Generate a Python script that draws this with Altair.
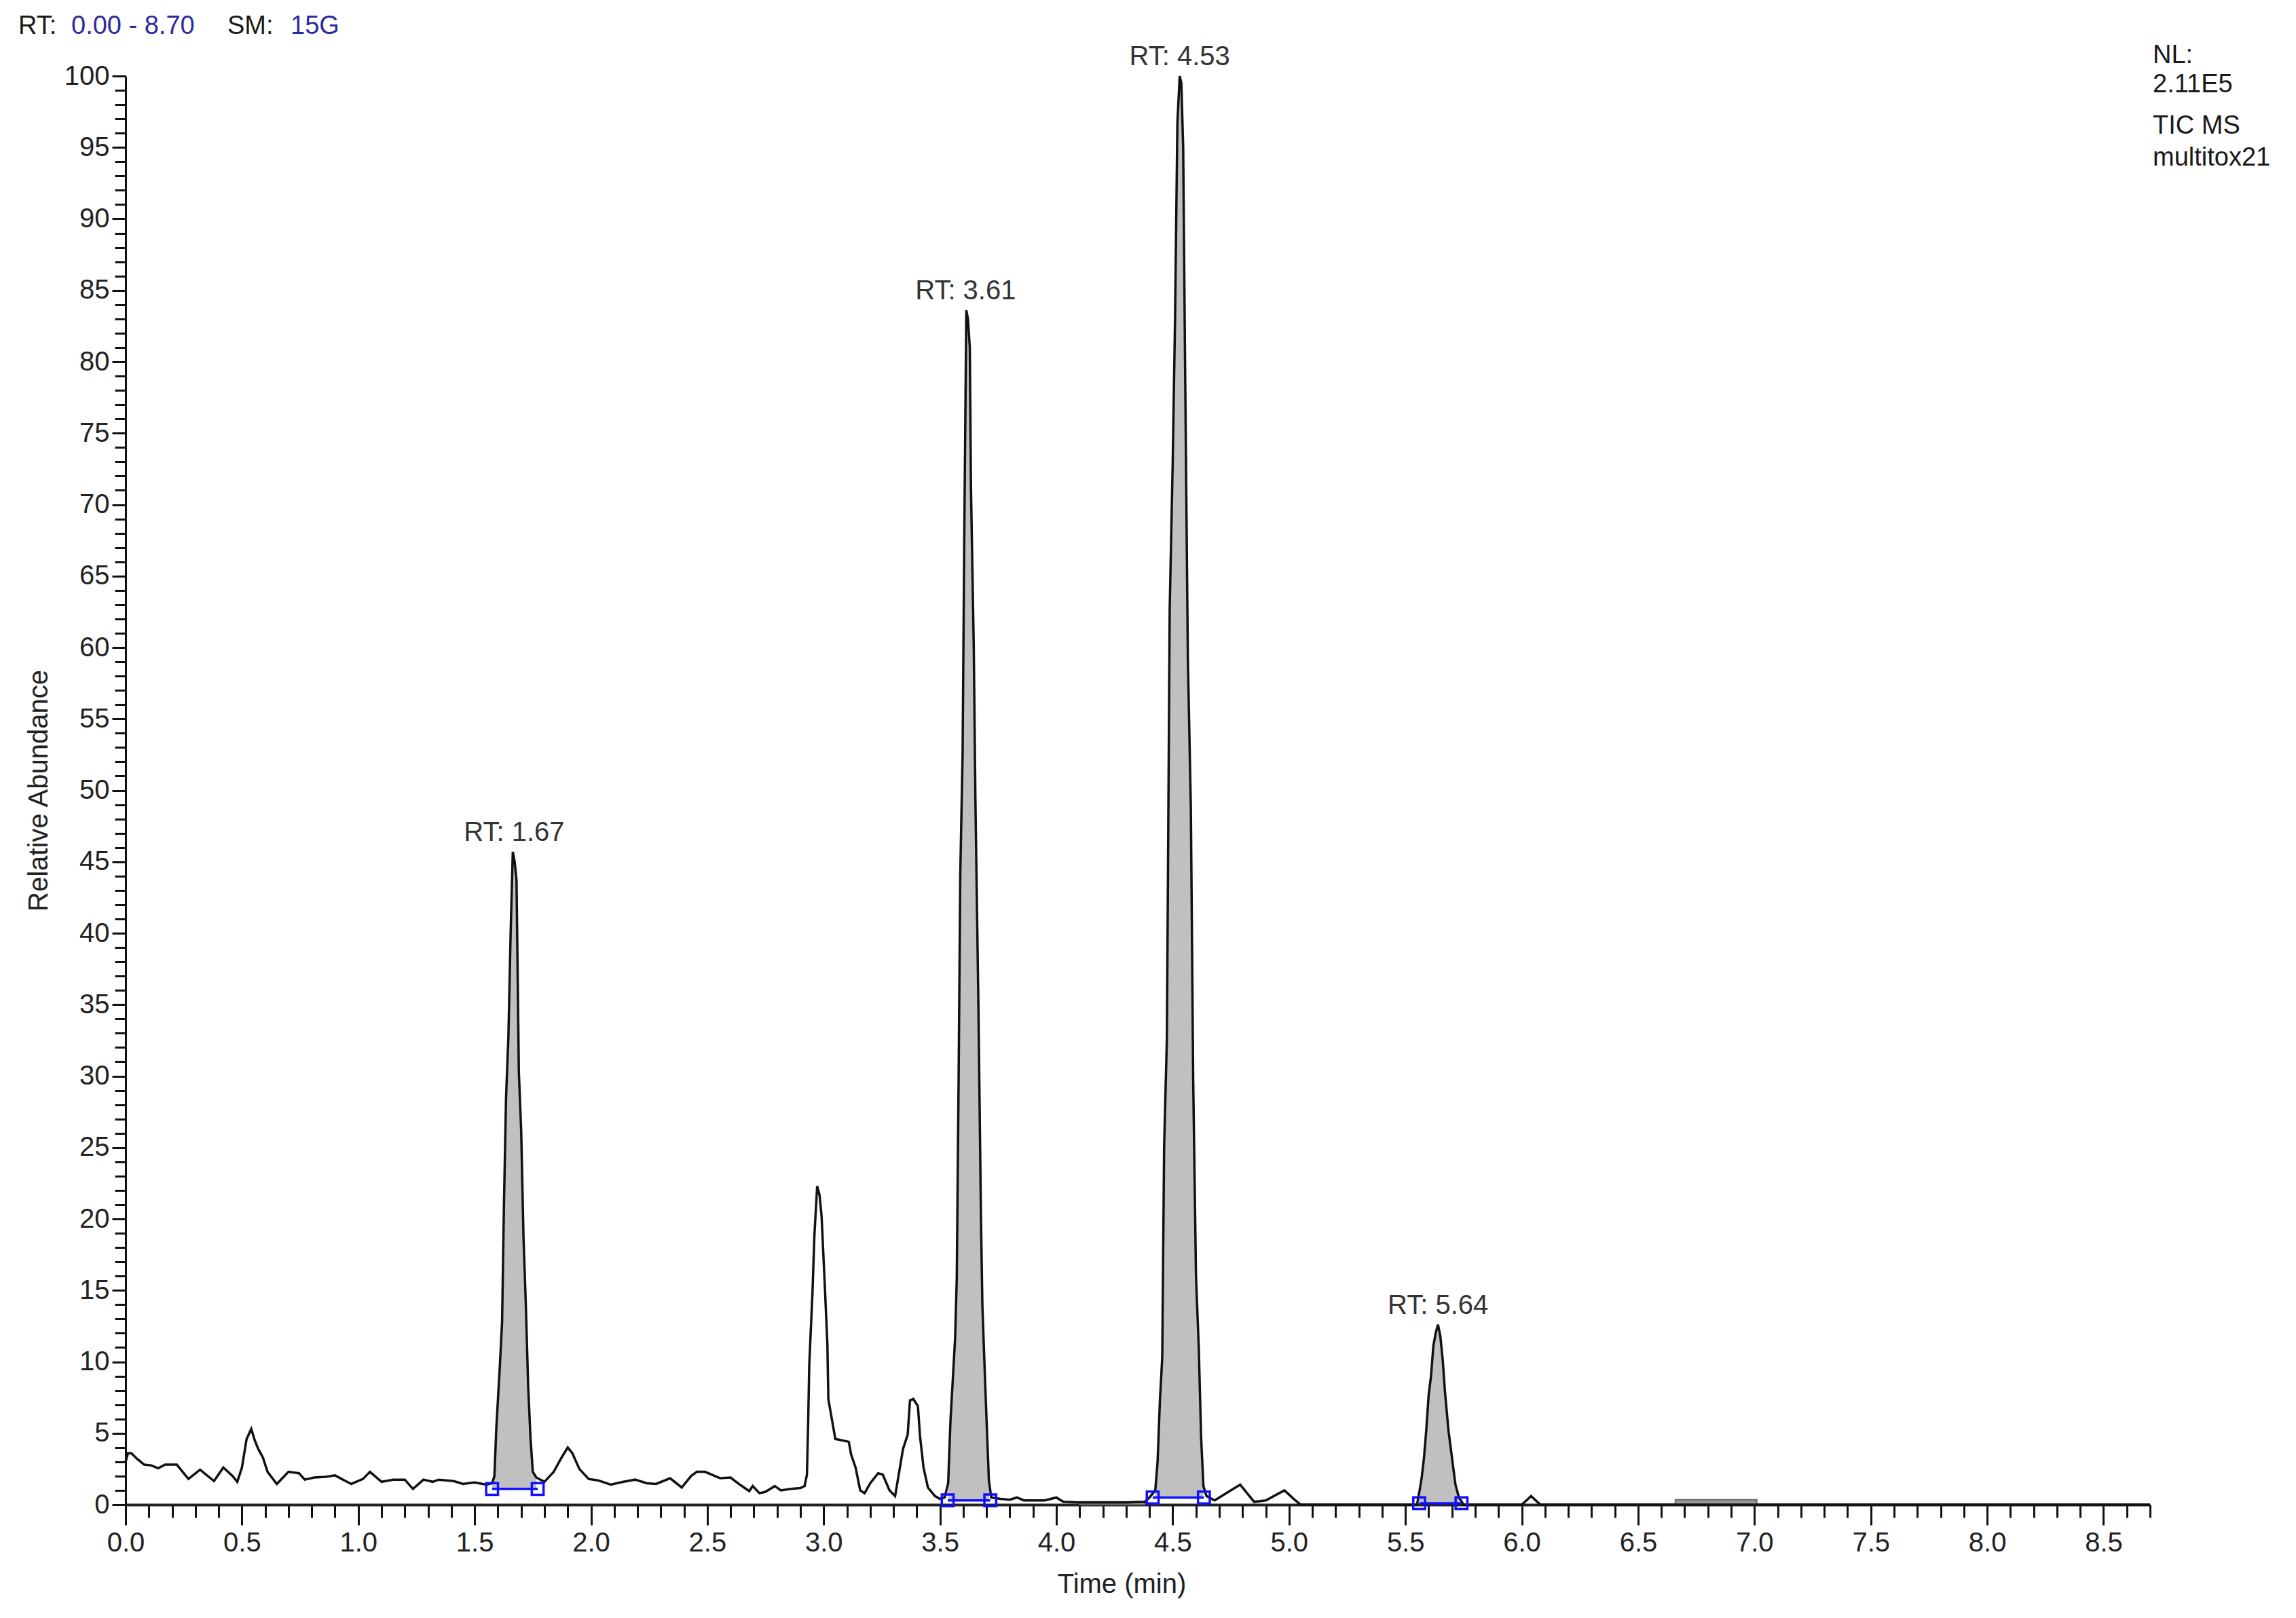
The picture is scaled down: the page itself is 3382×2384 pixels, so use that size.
import altair as alt
import pandas as pd

# ---- chromatogram trace (time in min, relative abundance in %) ----
early_t = [0.00, 0.01, 0.025, 0.05, 0.08, 0.11, 0.14, 0.17, 0.22, 0.27, 0.32, 0.38, 0.42, 0.46, 0.48,
           0.50, 0.52, 0.54, 0.555, 0.57, 0.59, 0.61, 0.65, 0.70, 0.745, 0.77, 0.81, 0.86, 0.90, 0.94,
           0.97, 1.02, 1.05, 1.10, 1.15, 1.20, 1.235, 1.28, 1.32, 1.345, 1.41, 1.45, 1.50, 1.55, 1.575]
early_v = [3.0, 3.6, 3.6, 3.2, 2.8, 2.75, 2.55, 2.8, 2.8, 1.8, 2.45, 1.65, 2.6, 2.0, 1.6,
           2.6, 4.6, 5.3, 4.5, 3.9, 3.3, 2.3, 1.45, 2.3, 2.2, 1.75, 1.9, 1.95, 2.05, 1.7,
           1.45, 1.8, 2.3, 1.6, 1.75, 1.75, 1.1, 1.75, 1.6, 1.75, 1.65, 1.45, 1.55, 1.4, 1.5]

p1_t = [1.585, 1.593, 1.608, 1.618, 1.626, 1.635, 1.645, 1.655, 1.664, 1.672, 1.68, 1.69, 1.70,
        1.71, 1.72, 1.73, 1.74, 1.75, 1.765]
p1_v = [2.0, 5.3, 9.6, 12.8, 21.0, 28.5, 32.7, 40.2, 45.7, 45.0, 43.7, 30.3, 26.2,
        18.7, 14.0, 8.3, 4.7, 2.3, 1.9]

mid_t = [1.80, 1.84, 1.87, 1.90, 1.92, 1.95, 1.99, 2.03, 2.085, 2.14, 2.19, 2.24, 2.28, 2.34, 2.39,
         2.43, 2.455, 2.49, 2.555, 2.60, 2.64, 2.68, 2.695, 2.724, 2.75, 2.79, 2.816, 2.86, 2.90,
         2.918, 2.928, 2.933, 2.938, 2.952, 2.96, 2.972, 2.982, 2.991, 3.006, 3.016, 3.02, 3.035,
         3.05, 3.079, 3.108, 3.118, 3.137, 3.157, 3.176, 3.20, 3.234, 3.254, 3.283, 3.307, 3.341,
         3.361, 3.371, 3.385, 3.405, 3.414, 3.429, 3.448, 3.478, 3.50, 3.52]
mid_v = [1.6, 2.3, 3.2, 4.0, 3.6, 2.5, 1.8, 1.7, 1.4, 1.6, 1.75, 1.5, 1.45, 1.85, 1.2,
         2.0, 2.3, 2.3, 1.85, 1.9, 1.4, 0.95, 1.3, 0.8, 0.9, 1.3, 1.0, 1.1, 1.16,
         1.3, 2.1, 5.5, 9.75, 14.9, 18.8, 22.3, 21.7, 20.2, 14.9, 11.2, 7.4, 6.0,
         4.6, 4.5, 4.4, 3.5, 2.6, 1.0, 0.8, 1.5, 2.2, 2.1, 1.0, 0.6, 3.9,
         4.9, 7.3, 7.4, 6.9, 4.8, 2.6, 1.2, 0.6, 0.4, 0.5]

p2_t = [3.535, 3.545, 3.555, 3.565, 3.572, 3.58, 3.587, 3.597, 3.605, 3.613, 3.62, 3.628, 3.633,
        3.645, 3.652, 3.665, 3.676, 3.682, 3.69, 3.70, 3.71, 3.72]
p2_v = [1.5, 5.9, 8.8, 11.7, 15.9, 30.0, 44.1, 52.5, 69.3, 83.6, 83.0, 81.0, 71.2,
        60.0, 49.4, 34.9, 20.0, 14.0, 10.3, 5.9, 1.7, 0.5]

gap_t = [3.76, 3.80, 3.83, 3.86, 3.95, 4.00, 4.03, 4.10, 4.20, 4.30, 4.38, 4.40]
gap_v = [0.4, 0.35, 0.5, 0.3, 0.3, 0.5, 0.2, 0.15, 0.15, 0.15, 0.2, 0.5]

p3_t = [4.425, 4.435, 4.445, 4.455, 4.463, 4.475, 4.487, 4.50, 4.51, 4.52, 4.53, 4.537, 4.545,
        4.553, 4.565, 4.578, 4.588, 4.60, 4.612, 4.622, 4.632, 4.645]
p3_v = [1.0, 3.0, 7.3, 10.3, 25.0, 32.7, 62.7, 73.0, 83.0, 96.7, 100.0, 99.5, 95.0,
        80.0, 59.3, 48.7, 29.7, 16.0, 11.0, 4.7, 1.3, 0.6]

post_t = [4.68, 4.74, 4.79, 4.85, 4.90, 4.98, 5.02, 5.05, 5.55]
post_v = [0.3, 0.9, 1.4, 0.2, 0.3, 1.0, 0.4, 0.0, 0.0]

p4_t = [5.56, 5.57, 5.58, 5.59, 5.60, 5.61, 5.62, 5.63, 5.64, 5.65, 5.66, 5.67, 5.685, 5.70,
        5.715, 5.73, 5.75]
p4_v = [0.9, 1.9, 3.3, 5.3, 7.7, 9.0, 11.1, 12.0, 12.6, 11.8, 10.2, 7.9, 5.2, 3.3,
        1.4, 0.5, 0.0]

tail_t = [6.00, 6.04, 6.08, 8.70]
tail_v = [0.0, 0.6, 0.0, 0.0]

# ---- integrated peaks ----
peak_rt = [1.67, 3.61, 4.53, 5.64]
peak_labels = ["RT: 1.67", "RT: 3.61", "RT: 4.53", "RT: 5.64"]
int_start = [1.575, 3.533, 4.414, 5.559]
int_end = [1.771, 3.716, 4.634, 5.741]
int_base = [1.1, 0.3, 0.5, 0.1]

# small grey integrated bands near the baseline
band_start = [4.10, 6.66]
band_end = [4.38, 7.01]
band_top = [0.2, 0.35]

# axis ticks
x_ticks = [round(i * 0.1, 1) for i in range(88)]
y_ticks = list(range(0, 101))

# header / info texts
header_parts = ["RT:", "0.00 - 8.70", "SM:", "15G"]
header_colors = ["#1a1a1a", "#2b2b9e", "#1a1a1a", "#2b2b9e"]
nl_lines = ["NL:", "2.11E5", "TIC  MS", "multitox21"]

FONT = "Liberation Sans"
W, H = 2982, 2105

segs = [(early_t, early_v), (p1_t, p1_v), (mid_t, mid_v), (p2_t, p2_v), (gap_t, gap_v),
        (p3_t, p3_v), (post_t, post_v), (p4_t, p4_v), (tail_t, tail_v)]
ts, vs = [], []
for a, b in segs:
    assert len(a) == len(b)
    ts += a
    vs += b
trace = pd.DataFrame({"t": ts, "v": vs})

fills = []
for i, (s, e, b) in enumerate(zip(int_start, int_end, int_base)):
    sub = trace[(trace.t >= s) & (trace.t <= e)].copy()
    sub["base"] = b
    sub["peak"] = i
    fills.append(sub)
fill_df = pd.concat(fills)

int_df = pd.DataFrame({"t": int_start, "e": int_end, "v": int_base})
box_df = pd.DataFrame({"t": int_start + int_end, "v": int_base + int_base})
apex = [trace[(trace.t >= s) & (trace.t <= e)].v.max() for s, e in zip(int_start, int_end)]
label_df = pd.DataFrame({"t": peak_rt, "v": apex, "label": peak_labels})
band_df = pd.DataFrame({"t": band_start, "e": band_end, "top": band_top,
                        "v": [0.0] * len(band_start)})

xscale = alt.Scale(domain=[0, 8.7], nice=False, zero=False)
yscale = alt.Scale(domain=[0, 100], nice=False)

x_axis = alt.Axis(
    values=x_ticks,
    labelExpr="round(datum.value*10) % 5 == 0 ? format(datum.value, '.1f') : ''",
    tickSize={"condition": {"test": "round(datum.value*10) % 5 == 0", "value": 30}, "value": 19},
    tickWidth=3, tickColor="#111111",
    domainWidth=4, domainColor="#222222",
    labelFont=FONT, labelFontSize=40, labelColor="#222222", labelPadding=6,
    labelFlush=False, labelOverlap=False, grid=False,
    title="Time (min)", titleFont=FONT, titleFontSize=40, titleFontWeight="normal",
    titleColor="#222222", titleX=1467, titleY=117, titleBaseline="middle", titleAnchor="middle",
)
y_axis = alt.Axis(
    values=y_ticks,
    labelExpr="datum.value % 5 == 0 ? datum.label : ''",
    tickSize={"condition": {"test": "datum.value % 5 == 0", "value": 20}, "value": 16},
    tickWidth=3, tickColor="#111111",
    domainWidth=3, domainColor="#111111",
    labelFont=FONT, labelFontSize=40, labelColor="#222222", labelPadding=4,
    labelFlush=False, labelOverlap=False, grid=False,
    title="Relative Abundance", titleFont=FONT, titleFontSize=40, titleFontWeight="normal",
    titleColor="#222222", titleX=-128, titleY=H / 2, titleBaseline="middle", titleAnchor="middle",
)

X = alt.X("t:Q", scale=xscale, axis=x_axis)
Y = alt.Y("v:Q", scale=yscale, axis=y_axis)

area = alt.Chart(fill_df).mark_area(color="#c0c0c0", opacity=1).encode(
    x=X, y=Y, y2="base:Q", detail="peak:N",
)

bands = alt.Chart(band_df).mark_rect(fill="#999999", stroke="#666666", strokeWidth=2).encode(
    x=X, x2="e:Q", y=Y, y2="top:Q",
)

line = alt.Chart(trace).mark_line(color="#111111", strokeWidth=3.5).encode(
    x=X, y=Y, order="t:Q",
)

base_rules = alt.Chart(int_df).mark_rule(color="#1010ff", strokeWidth=3.5).encode(
    x=X, x2="e:Q", y=Y,
)

boxes = alt.Chart(box_df).mark_point(shape="square", filled=False, color="#1010ff",
                                      size=300, strokeWidth=3.5, opacity=1).encode(
    x=X, y=Y,
)

labels = alt.Chart(label_df).mark_text(font=FONT, fontSize=40, color="#333333",
                                        baseline="bottom", align="center", dy=-8).encode(
    x=X, y=Y, text="label:N",
)

layers = [area, bands, line, base_rules, boxes, labels]

header_x = [-158, -80, 150, 243]
for txt, col, hx in zip(header_parts, header_colors, header_x):
    layers.append(
        alt.Chart(pd.DataFrame({"txt": [txt]})).mark_text(
            font=FONT, fontSize=38, color=col, align="left", baseline="middle"
        ).encode(x=alt.value(hx), y=alt.value(-73), text="txt:N")
    )

nl_y = [-30, 13, 74, 121]
for txt, ny in zip(nl_lines, nl_y):
    layers.append(
        alt.Chart(pd.DataFrame({"txt": [txt]})).mark_text(
            font=FONT, fontSize=38, color="#1a1a1a", align="left", baseline="middle"
        ).encode(x=alt.value(W + 4), y=alt.value(ny), text="txt:N")
    )

chart = alt.layer(*layers).properties(
    width=W, height=H,
    autosize=alt.AutoSizeParams(type="none"),
    padding={"left": 177, "top": 104, "right": 200, "bottom": 150},
    background="white",
).configure_view(stroke=None)

chart.save("out.html", embed_options={"renderer": "svg", "actions": False})
